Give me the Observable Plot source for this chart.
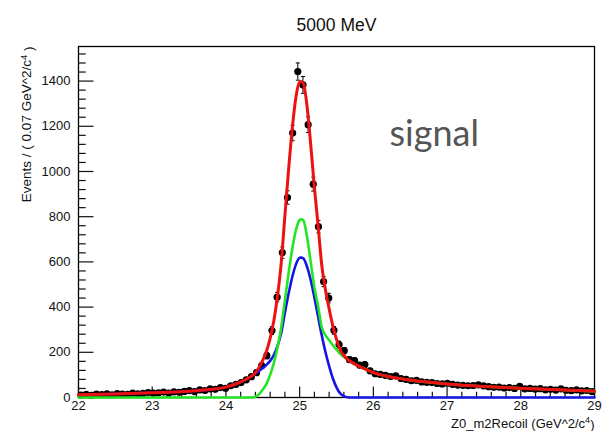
<!DOCTYPE html>
<html><head><meta charset="utf-8">
<script src="https://cdn.jsdelivr.net/npm/d3@7"></script>
<script src="https://cdn.jsdelivr.net/npm/@observablehq/plot@0.6"></script>
<style>
html,body{margin:0;padding:0;background:#fff;}
#chart svg{display:block;}
</style>
</head><body><div id="chart"></div>
<script>
// ---- data ----
const titleText = "5000 MeV";
const annotationText = "signal";
const yTitle = "Events / ( 0.07 GeV^2/c\u2074 )";
const xTitle = "Z0_m2Recoil (GeV^2/c\u2074)";
const binLow = 22;
const binWidth = 0.07;
const counts = [
  11,14,10,15,13,16,12,17,15,14,19,16,18,22,19,21,24,20,25,23,27,30,26,34,31,38,36,44,41,52,58,66,78,92,110,
  141,185,296,444,641,885,1170,1442,1383,1207,944,756,513,440,297,234,207,168,163,143,146,118,
  105,102,98,93,96,84,80,74,76,69,67,66,62,60,63,58,55,54,52,53,56,51,48,45,46,42,44,40,49,38,40,37,39,34,36,33,38,32,30,34,29,31,26
];
const curveX = [22.0,22.5,23.0,23.5,23.8,24.0,24.15,24.3,24.35,24.4,24.45,24.5,24.55,24.6,24.65,24.7,24.75,24.8,24.85,24.9,24.95,25.0,25.02,25.05,25.1,25.15,25.2,25.25,25.3,25.35,25.4,25.45,25.5,25.55,25.6,25.65,25.7,25.8,25.9,26.0,26.2,26.5,27.0,27.5,28.0,28.5,29.0];
const totalY = [12,16,21,28,36,46,62,85,95,110,133,165,205,262,340,450,595,805,1008,1191,1330,1395,1398,1390,1290,1120,930,763,585,477,393,317,257,211,186,169,157,139,124,110,93,77,60,49,41,34,28];
const blueY = [12,16,21,28,36,46,62,85,95,106,118,130,145,162,188,228,285,375,459,533,589,618,619,616,579,520,443,358,275,201,139,85,45,18,6,1,0,0,0,0,0,0,0,0,0,0,0];
const greenY = [0,0,0,0,0,0,0,0,0,4,15,35,60,100,152,222,310,430,549,658,741,785,788,784,711,600,487,405,310,276,254,232,212,193,180,168,157,139,124,110,93,77,60,49,41,34,28];
const xMajor = [22,23,24,25,26,27,28,29];
const yMajor = [0,200,400,600,800,1000,1200,1400];

// ---- derived tables ----
const bins = counts.map((n, i) => ({x: binLow + binWidth * (i + 0.5), n, lo: n - Math.sqrt(n), hi: n + Math.sqrt(n)}));
const curves = curveX.map((x, i) => ({x, total: totalY[i], blue: blueY[i], green: greenY[i]}));
const xMinor = d3.range(22, 29.0001, 0.2).filter(v => Math.abs(v - Math.round(v)) > 1e-6);
const yMinor = d3.range(0, 1553, 40).filter(v => v % 200 !== 0);

const cap = {draw(ctx, size) { const w = Math.sqrt(size / Math.PI); ctx.moveTo(-w, 0); ctx.lineTo(w, 0); }};
const helv = "'Liberation Sans', Arial, Helvetica, sans-serif";
const plain = d => String(d);

const chart = Plot.plot({
  width: 610, height: 431,
  marginLeft: 78, marginRight: 16, marginTop: 46, marginBottom: 34,
  x: {domain: [22, 29]},
  y: {domain: [0, 1553]},
  style: {fontFamily: helv, fontSize: "13px", color: "#111", background: "#fff"},
  marks: [
    Plot.frame({stroke: "#000", strokeWidth: 1.3}),
    Plot.axisX(xMajor, {tickSize: 0, tickPadding: 3, label: null, fontSize: 13, tickFormat: plain}),
    Plot.axisY(yMajor, {tickSize: 0, tickPadding: 8, label: null, fontSize: 13, tickFormat: plain}),
    Plot.axisX(xMajor, {tickSize: -10.5, tickFormat: () => "", label: null, strokeWidth: 1.2}),
    Plot.axisX(xMinor, {tickSize: -5.2, tickFormat: () => "", label: null, strokeWidth: 1.2}),
    Plot.axisY(yMajor, {tickSize: -15.5, tickFormat: () => "", label: null, strokeWidth: 1.2}),
    Plot.axisY(yMinor, {tickSize: -7.7, tickFormat: () => "", label: null, strokeWidth: 1.2}),
    Plot.ruleX(bins, {x: "x", y1: "lo", y2: "hi", stroke: "#000", strokeWidth: 1}),
    Plot.dot(bins, {x: "x", y: "lo", symbol: cap, r: 2, stroke: "#000", fill: "none", strokeWidth: 1}),
    Plot.dot(bins, {x: "x", y: "hi", symbol: cap, r: 2, stroke: "#000", fill: "none", strokeWidth: 1}),
    Plot.dot(bins, {x: "x", y: "n", r: 3.6, fill: "#000", stroke: "none"}),
    Plot.line(curves, {x: "x", y: "blue", stroke: "#1414e6", strokeWidth: 2.6, curve: "monotone-x"}),
    Plot.line(curves, {x: "x", y: "green", stroke: "#22e622", strokeWidth: 2.6, curve: "monotone-x"}),
    Plot.line(curves, {x: "x", y: "total", stroke: "#ee1111", strokeWidth: 3, curve: "monotone-x"}),
    Plot.text([titleText], {text: d => d, frameAnchor: "top", dy: -28, fontSize: 17.5, fill: "#111"}),
    Plot.text([annotationText], {text: d => d, frameAnchor: "top-left", dx: 311, dy: 74, textAnchor: "start", fontSize: 36, fill: "#555", fontFamily: "Lato, 'Open Sans', sans-serif"}),
    Plot.text([yTitle], {text: d => d, frameAnchor: "top-left", dx: -57, dy: 0, rotate: -90, textAnchor: "end", fontSize: 13.5, fill: "#111"}),
    Plot.text([xTitle], {text: d => d, frameAnchor: "bottom-right", dy: 30, textAnchor: "end", lineAnchor: "bottom", fontSize: 13, fill: "#111"})
  ]
});
// render the superscript 4 as a raised tspan, keeping the text as real text
d3.select(chart).selectAll("text").each(function() {
  const t = this.textContent;
  if (!t.includes("\u2074")) return;
  const parts = t.split("\u2074");
  const sel = d3.select(this);
  sel.text(null);
  sel.append("tspan").text(parts[0]);
  sel.append("tspan").attr("dy", "-0.45em").attr("font-size", "70%").text("4");
  sel.append("tspan").attr("dy", "0.45em").text(parts[1]);
});
document.getElementById("chart").appendChild(chart);
</script>
</body></html>
